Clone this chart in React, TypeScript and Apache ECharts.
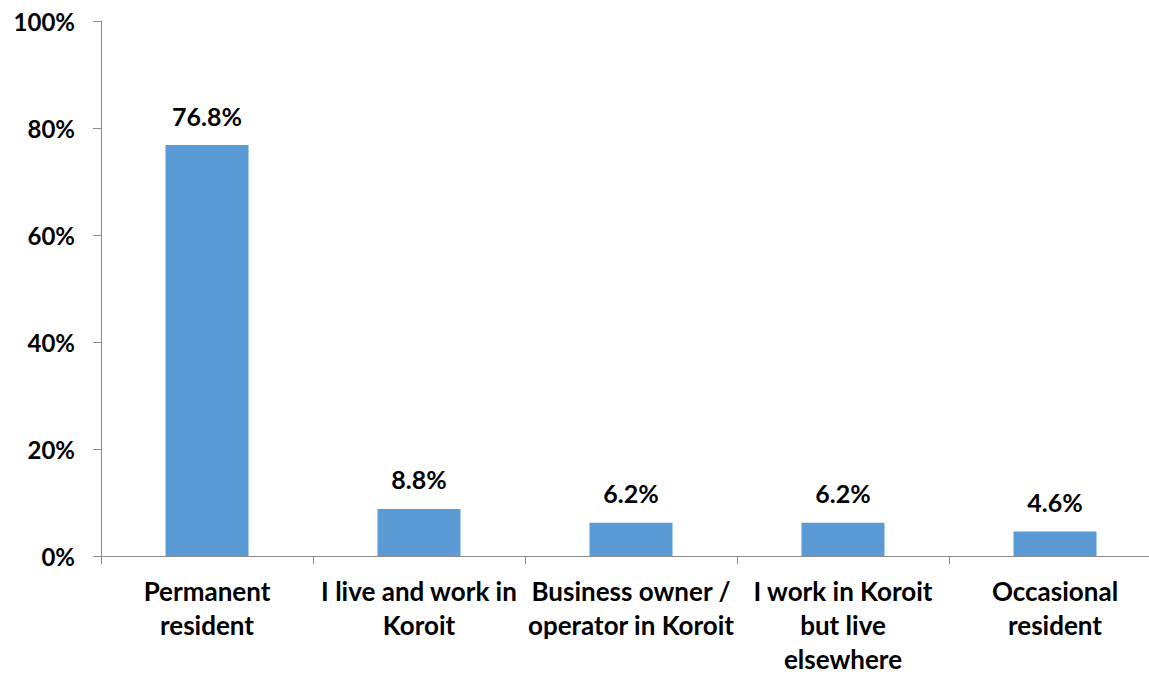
import React, { useEffect, useRef } from "react";
import * as echarts from "echarts";

const categories = [
  "Permanent\nresident",
  "I live and work in\nKoroit",
  "Business owner /\noperator in Koroit",
  "I work in Koroit\nbut live\nelsewhere",
  "Occasional\nresident",
];
const values = [76.8, 8.8, 6.2, 6.2, 4.6];
const yTicks = [0, 20, 40, 60, 80, 100];

const FONT = "Lato";

export default function App() {
  const ref = useRef<HTMLDivElement>(null);
  useEffect(() => {
    if (!ref.current) return;
    const chart = echarts.init(ref.current, undefined, { renderer: "svg" });
    chart.setOption({
      animation: false,
      backgroundColor: "#ffffff",
      grid: {
        left: 101,
        top: 21,
        width: 1060,
        height: 535,
        containLabel: false,
        outerBoundsMode: "none",
      },
      xAxis: {
        type: "category",
        data: categories,
        axisLine: { show: true, lineStyle: { color: "#8c8c8c", width: 1 } },
        axisTick: { show: true, length: 8, lineStyle: { color: "#8c8c8c" } },
        axisLabel: {
          interval: 0,
          margin: 18,
          color: "#000",
          fontFamily: FONT,
          fontWeight: "bold",
          fontSize: 26,
          lineHeight: 34,
        },
      },
      yAxis: {
        type: "value",
        min: yTicks[0],
        max: yTicks[yTicks.length - 1],
        interval: 20,
        axisLine: { show: true, lineStyle: { color: "#8c8c8c", width: 1 } },
        axisTick: { show: true, length: 8, lineStyle: { color: "#8c8c8c" } },
        splitLine: { show: false },
        axisLabel: {
          margin: 26,
          color: "#000",
          fontFamily: FONT,
          fontWeight: "bold",
          fontSize: 24,
          formatter: (v: number) => `${v}%`,
        },
      },
      series: [
        {
          type: "bar",
          data: values,
          barWidth: 83,
          itemStyle: { color: "#5b9bd5" },
          label: {
            show: true,
            position: "top",
            distance: 17,
            color: "#000",
            fontFamily: FONT,
            fontWeight: "bold",
            fontSize: 25,
            formatter: (p: any) => `${p.value.toFixed(1)}%`,
          },
        },
      ],
    });
    return () => chart.dispose();
  }, []);
  return (
    <div
      style={{
        position: "fixed",
        left: 0,
        top: 0,
        width: 1149,
        height: 675,
        overflow: "hidden",
      }}
    >
      <div ref={ref} style={{ width: 1149, height: 675, overflow: "hidden" }} />
    </div>
  );
}
